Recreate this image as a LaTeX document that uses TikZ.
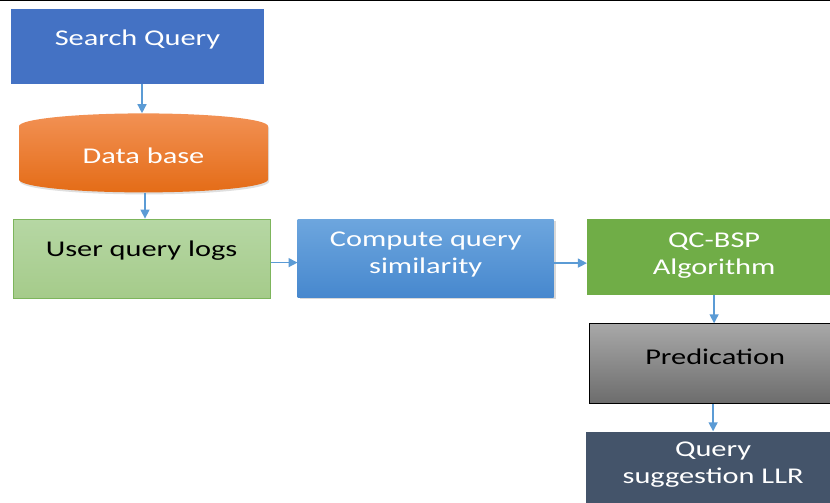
\documentclass[tikz,border=0pt]{standalone}
\usepackage{fontspec}
\setmainfont{Carlito}[FakeStretch=1.35]
\usetikzlibrary{arrows.meta, shapes.geometric, positioning, shadows}
\definecolor{queryblue}{HTML}{4472C4}
\definecolor{dbtop}{HTML}{F29154}
\definecolor{dbbottom}{HTML}{E46C17}
\definecolor{logtop}{HTML}{B6D7A4}
\definecolor{logbottom}{HTML}{A5CB8A}
\definecolor{logline}{HTML}{7DB55C}
\definecolor{simtop}{HTML}{6DA6DE}
\definecolor{simbottom}{HTML}{4788CE}
\definecolor{algogreen}{HTML}{70AD47}
\definecolor{predtop}{HTML}{A8A8A8}
\definecolor{predbottom}{HTML}{6C6C6C}
\definecolor{slate}{HTML}{44546A}
\definecolor{flowblue}{HTML}{5B9BD5}

\begin{document}
\begin{tikzpicture}[
  x=1pt, y=-1pt,
  >={Triangle[length=9pt, width=9pt]},
  node distance=28pt,
  stage/.style={
    rectangle, minimum width=254pt, minimum height=77pt, inner sep=2pt,
    align=center, text depth=19pt,
    font=\fontsize{22.5}{27}\selectfont, text=white
  },
  flow/.style={->, line width=1.4pt, color=flowblue}
]
\clip (0,0) rectangle (830,503);
\fill[white] (0,0) rectangle (830,503);
\draw[line width=1.5pt] (0,0.75) -- (830,0.75);

% left column
\node[stage, fill=queryblue, minimum width=253pt, minimum height=75pt, text depth=18pt] (query) at (137.5,46.5) {Search Query};
\node[cylinder, shape border rotate=90, aspect=0.2, minimum width=249pt, minimum height=79pt,
  top color=dbtop, bottom color=dbbottom, text=white, font=\fontsize{22.5}{27}\selectfont,
  text depth=11pt, drop shadow={opacity=0.25, shadow xshift=1pt, shadow yshift=-2pt},
  below=29pt of query, xshift=6pt] (db) {Data base};
\node[stage, top color=logtop, bottom color=logbottom, draw=logline, line width=1pt, text=black,
  minimum width=257pt, minimum height=79pt, below=26pt of db, xshift=-2pt] (logs) {User query logs};

% middle and right
\node[stage, top color=simtop, bottom color=simbottom, minimum width=256pt, minimum height=78pt,
  text depth=11pt, drop shadow={opacity=0.3, shadow xshift=2pt, shadow yshift=-2pt},
  right=27pt of logs, yshift=0.5pt] (sim) {Compute query\\similarity};
\node[stage, fill=algogreen, text depth=6pt, minimum height=76pt,
  right=33pt of sim, yshift=1pt] (algo) {QC-BSP\\Algorithm};
\node[stage, top color=predtop, bottom color=predbottom, draw=black, line width=1pt, text=black,
  text depth=15pt, minimum width=252pt, minimum height=80pt, below=28pt of algo, xshift=1pt] (pred) {Predication};
\node[stage, fill=slate, text depth=16pt, minimum height=78pt, below=27pt of pred, xshift=-2pt] (llr) {Query\\suggestion LLR};

\draw[flow] (query.south -| 142,0) -- (db.north -| 142,0);
\draw[flow] (db.south -| 145,0) -- (logs.north -| 145,0);
\draw[flow] ([yshift=-4pt]logs.east) -- ([yshift=-4pt]logs.east -| sim.west);
\draw[flow] ([yshift=-5pt]sim.east) -- ([yshift=-5pt]sim.east -| algo.west);
\draw[flow] (algo.south) -- (algo.south |- pred.north);
\draw[flow] ([xshift=-2pt]pred.south) -- ([xshift=-2pt]pred.south |- llr.north);
\end{tikzpicture}
\end{document}
